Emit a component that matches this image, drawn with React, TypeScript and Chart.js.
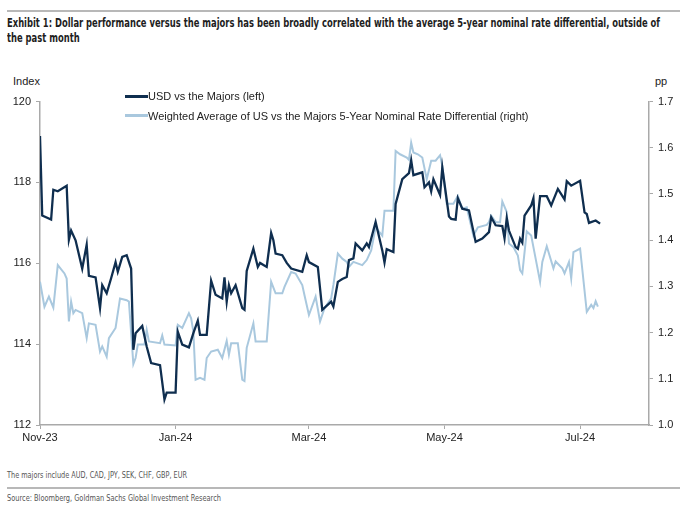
import React, { useEffect, useLayoutEffect, useRef } from "react";
import { Chart, registerables } from "chart.js";

Chart.register(...registerables);

// Day offsets are counted from 1 Nov 2023.
const usdDays = [
  0, 1, 5, 6, 8, 12, 13, 14, 16, 19,
  21, 22, 25, 27, 28, 30, 32, 34, 35, 37,
  39, 41, 42, 43, 46, 48, 50, 54, 56, 57,
  61, 62, 64, 67, 69, 71, 72, 75, 77, 79,
  82, 83, 84, 85, 86, 88, 91, 92, 93, 96,
  98, 99, 102, 104, 105, 106, 109, 111, 113, 118,
  120, 121, 125, 127, 131, 132, 134, 136, 138, 139,
  141, 142, 145, 147, 148, 151, 154, 155, 156, 159,
  160, 163, 165, 166, 167, 168, 172, 173, 175, 176,
  177, 180, 181, 184, 185, 187, 188, 190, 193, 196,
  199, 202, 203, 205, 208, 209, 210, 211, 214, 215,
  216, 217, 218, 221, 222, 223, 225, 228, 230, 233,
  236, 237, 239, 243, 245, 246, 247, 250, 252,
];

const usdValues = [
  119.15, 117.18, 117.08, 117.82, 117.78, 117.92, 116.58, 116.81, 116.57, 115.87,
  116.46, 115.69, 115.65, 114.89, 115.46, 115.26, 115.63, 116.03, 115.79, 116.16,
  116.2, 115.87, 113.86, 114.27, 114.45, 113.94, 113.53, 113.48, 112.63, 112.8,
  112.8, 114.31, 113.99, 113.92, 114.27, 114.58, 114.23, 114.23, 115.57, 115.22,
  115.13, 115.65, 115.05, 115.46, 115.26, 115.46, 114.89, 114.85, 115.81, 116.36,
  115.91, 116.01, 115.91, 116.75, 116.57, 116.24, 116.2, 116.01, 115.87, 115.79,
  116.2, 116.03, 115.91, 114.85, 115.05, 114.93, 115.54, 115.61, 115.66, 116.08,
  116.12, 116.49, 116.32, 116.49, 116.4, 117.02, 116.32, 116.02, 116.35, 116.28,
  117.47, 118.08, 118.18, 118.23, 118.55, 118.18, 118.25, 117.88, 118.0, 117.78,
  118.08, 117.69, 118.37, 117.16, 117.1, 117.08, 117.61, 117.35, 117.31, 116.53,
  116.61, 116.77, 117.14, 116.94, 116.92, 116.62, 117.12, 116.81, 116.4, 116.36,
  116.61, 116.51, 117.18, 117.43, 117.61, 116.61, 117.66, 117.66, 117.43, 117.84,
  117.58, 118.03, 117.92, 118.04, 117.26, 117.22, 117.0, 117.06, 116.98,
];

const diffDays = [
  0, 2, 4, 6, 8, 11, 12, 13, 14, 15,
  16, 19, 21, 22, 25, 27, 28, 30, 31, 34,
  36, 39, 40, 42, 43, 44, 47, 48, 49, 54,
  55, 56, 61, 62, 64, 67, 68, 69, 70, 72,
  74, 75, 77, 80, 82, 84, 85, 86, 89, 91,
  92, 93, 96, 97, 102, 104, 106, 109, 110, 113,
  115, 118, 119, 121, 124, 126, 128, 131, 132, 134,
  136, 138, 139, 141, 145, 147, 149, 151, 154, 155,
  159, 160, 162, 165, 166, 167, 168, 170, 172, 174,
  176, 178, 180, 181, 183, 186, 188, 190, 192, 195,
  197, 201, 202, 203, 205, 207, 208, 210, 211, 213,
  215, 216, 217, 219, 221, 222, 223, 225, 226, 228,
  231, 232, 235, 236, 238, 239, 240, 243, 246, 248,
  249, 250, 251,
];

const diffValues = [
  1.31, 1.256, 1.278, 1.254, 1.346, 1.328, 1.317, 1.224, 1.267, 1.242,
  1.249, 1.242, 1.188, 1.22, 1.217, 1.159, 1.17, 1.148, 1.188, 1.21,
  1.274, 1.27, 1.267, 1.132, 1.145, 1.174, 1.174, 1.206, 1.181, 1.177,
  1.194, 1.174, 1.172, 1.217, 1.21, 1.242, 1.231, 1.202, 1.098, 1.102,
  1.098, 1.145, 1.159, 1.163, 1.145, 1.182, 1.152, 1.177, 1.177, 1.098,
  1.095, 1.167, 1.22, 1.181, 1.181, 1.31, 1.285, 1.285, 1.299, 1.331,
  1.328, 1.303, 1.281, 1.238, 1.278, 1.224, 1.253, 1.274, 1.303, 1.371,
  1.36, 1.353, 1.342, 1.353, 1.346, 1.357, 1.378, 1.428, 1.41, 1.464,
  1.464, 1.593, 1.586, 1.579, 1.574, 1.611, 1.59, 1.586, 1.579, 1.532,
  1.572, 1.572, 1.584, 1.561, 1.479, 1.479, 1.496, 1.468, 1.471, 1.41,
  1.428, 1.433, 1.439, 1.453, 1.439, 1.439, 1.484, 1.461, 1.393, 1.385,
  1.367, 1.335, 1.328, 1.419, 1.41, 1.385, 1.36, 1.31, 1.353, 1.387,
  1.339, 1.354, 1.339, 1.328, 1.353, 1.317, 1.374, 1.382, 1.245, 1.26,
  1.253, 1.268, 1.256,
];

const monthTickDays = [0, 61, 121, 182, 243];
const monthTickLabels = ["Nov-23", "Jan-24", "Mar-24", "May-24", "Jul-24"];
const axisEndDay = 274;

const usdLabel = "USD vs the Majors (left)";
const diffLabel = "Weighted Average of US vs the Majors 5-Year Nominal Rate Differential (right)";

const titleLines = [
  "Exhibit 1: Dollar performance versus the majors has been broadly correlated with the average 5-year nominal rate differential, outside of",
  "the past month",
];
const noteText = "The majors include AUD, CAD, JPY, SEK, CHF, GBP, EUR";
const sourceText = "Source: Bloomberg, Goldman Sachs Global Investment Research";

const DARK = "#0f2e4f";
const LIGHT = "#a9c8de";
const AXIS = "#a9a9a9";
const SANS = "'Liberation Sans', Arial, Helvetica, sans-serif";
const NARROW = "'Liberation Sans Narrow', 'Arial Narrow', 'DejaVu Sans Condensed', sans-serif";

// Text line squeezed horizontally to a given width (condensed report typeface).
function FitLine(props: {
  text: string;
  left: number;
  top: number;
  width: number;
  style: React.CSSProperties;
}) {
  const ref = useRef<HTMLSpanElement>(null);
  useLayoutEffect(() => {
    const el = ref.current;
    if (!el) return;
    el.style.transform = "none";
    const w = el.getBoundingClientRect().width;
    if (w > 0) el.style.transform = `scaleX(${props.width / w})`;
  }, [props.text, props.width]);
  return (
    <span
      ref={ref}
      style={{
        position: "absolute",
        left: props.left,
        top: props.top,
        whiteSpace: "nowrap",
        transformOrigin: "0 50%",
        lineHeight: 1,
        ...props.style,
      }}
    >
      {props.text}
    </span>
  );
}

function Title() {
  const first = useRef<HTMLSpanElement>(null);
  const second = useRef<HTMLSpanElement>(null);
  useLayoutEffect(() => {
    const a = first.current;
    const b = second.current;
    if (!a || !b) return;
    a.style.transform = "none";
    const w = a.getBoundingClientRect().width;
    if (w > 0) {
      const k = 653 / w;
      a.style.transform = `scaleX(${k})`;
      b.style.transform = `scaleX(${k})`;
    }
  }, []);
  const style: React.CSSProperties = {
    position: "absolute",
    left: 7,
    whiteSpace: "nowrap",
    transformOrigin: "0 50%",
    lineHeight: 1,
    fontFamily: NARROW,
    fontWeight: 700,
    fontSize: 11.5,
    color: "#1e1e1e",
  };
  return (
    <>
      <span ref={first} style={{ ...style, top: 18 }}>
        {titleLines[0]}
      </span>
      <span ref={second} style={{ ...style, top: 33 }}>
        {titleLines[1]}
      </span>
    </>
  );
}

function LegendRow(props: { top: number; color: string; thick: number; label: string }) {
  return (
    <div
      style={{
        position: "absolute",
        left: 125,
        top: props.top,
        height: 14,
        display: "flex",
        alignItems: "center",
        fontFamily: SANS,
        fontSize: 11,
        color: "#222",
        whiteSpace: "nowrap",
      }}
    >
      <div style={{ width: 23, height: props.thick, background: props.color }} />
      <span>{props.label}</span>
    </div>
  );
}

export default function App() {
  const canvasRef = useRef<HTMLCanvasElement>(null);

  useEffect(() => {
    const canvas = canvasRef.current;
    if (!canvas) return;
    const tickFont = { family: SANS, size: 11 };
    const chart = new Chart(canvas, {
      type: "line",
      data: {
        datasets: [
          {
            label: usdLabel,
            data: usdDays.map((d, i) => ({ x: d, y: usdValues[i] })),
            yAxisID: "y",
            borderColor: DARK,
            borderWidth: 2.3,
            pointRadius: 0,
            tension: 0,
          },
          {
            label: diffLabel,
            data: diffDays.map((d, i) => ({ x: d, y: diffValues[i] })),
            yAxisID: "y1",
            borderColor: LIGHT,
            borderWidth: 2,
            pointRadius: 0,
            tension: 0,
          },
        ],
      },
      options: {
        responsive: false,
        animation: false,
        layout: { padding: { top: 10, left: 0, right: 0, bottom: 0 } },
        plugins: { legend: { display: false }, tooltip: { enabled: false } },
        scales: {
          x: {
            type: "linear",
            min: 0,
            max: axisEndDay,
            afterBuildTicks: (s: any) => {
              s.ticks = monthTickDays.map((v) => ({ value: v }));
            },
            afterFit: (s: any) => {
              s.height = 25;
            },
            ticks: {
              autoSkip: false,
              maxRotation: 0,
              padding: 2,
              font: tickFont,
              color: "#222",
              callback: (v: any) => {
                const i = monthTickDays.indexOf(Number(v));
                return i >= 0 ? monthTickLabels[i] : "";
              },
            },
            grid: { drawOnChartArea: false, drawTicks: true, tickLength: 4, color: AXIS },
            border: { display: true, color: AXIS, width: 1.5 },
          },
          y: {
            position: "left",
            min: 112,
            max: 120,
            afterFit: (s: any) => {
              s.width = 40;
            },
            ticks: { stepSize: 2, padding: 5, font: tickFont, color: "#222" },
            grid: { drawOnChartArea: false, drawTicks: true, tickLength: 4, color: AXIS },
            border: { display: true, color: AXIS, width: 1.5 },
          },
          y1: {
            position: "right",
            min: 1.0,
            max: 1.7,
            afterFit: (s: any) => {
              s.width = 51;
            },
            ticks: {
              stepSize: 0.1,
              padding: 5,
              font: tickFont,
              color: "#222",
              callback: (v: any) => Number(v).toFixed(1),
            },
            grid: { drawOnChartArea: false, drawTicks: true, tickLength: 4, color: AXIS },
            border: { display: true, color: AXIS, width: 1.5 },
          },
        },
      },
    });
    return () => chart.destroy();
  }, []);

  return (
    <div
      style={{
        position: "absolute",
        left: 0,
        top: 0,
        width: 700,
        height: 511,
        background: "#fff",
        overflow: "hidden",
      }}
    >
      <div style={{ position: "absolute", left: 7, top: 10, width: 673, height: 2, background: "#b8b8b8" }} />
      <Title />
      <span
        style={{ position: "absolute", left: 13, top: 76, fontFamily: SANS, fontSize: 11, color: "#222", lineHeight: 1 }}
      >
        Index
      </span>
      <span
        style={{ position: "absolute", left: 655, top: 76, fontFamily: SANS, fontSize: 11, color: "#222", lineHeight: 1 }}
      >
        pp
      </span>
      <canvas
        ref={canvasRef}
        width={700}
        height={360}
        style={{ position: "absolute", left: 0, top: 90, width: 700, height: 360 }}
      />
      <LegendRow top={89} color={DARK} thick={3} label={usdLabel} />
      <LegendRow top={108.5} color={LIGHT} thick={2.5} label={diffLabel} />
      <FitLine
        text={noteText}
        left={7}
        top={471}
        width={180}
        style={{ fontFamily: NARROW, fontSize: 9, color: "#555" }}
      />
      <div style={{ position: "absolute", left: 7, top: 487, width: 673, height: 1.5, background: "#b8b8b8" }} />
      <FitLine
        text={sourceText}
        left={7}
        top={494}
        width={214}
        style={{ fontFamily: NARROW, fontSize: 9, color: "#555" }}
      />
    </div>
  );
}
